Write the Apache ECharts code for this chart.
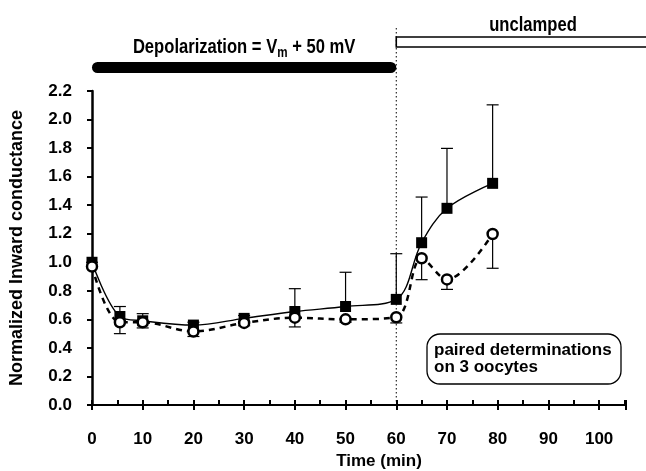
<!DOCTYPE html>
<html>
<head>
<meta charset="utf-8">
<script src="https://cdn.jsdelivr.net/npm/echarts@6/dist/echarts.min.js"></script>
<style>
  html, body { margin: 0; padding: 0; background: #fff; }
  #chart { width: 646px; height: 471px; }
</style>
</head>
<body>
<div id="chart"></div>
<script>
// Time points (min)
const times = [0, 5.5, 10, 20, 30, 40, 50, 60, 65, 70, 79];
// Filled squares: normalized inward conductance and upper SEM
const squareVals = [1.0, 0.62, 0.59, 0.56, 0.607, 0.655, 0.69, 0.74, 1.137, 1.378, 1.553];
const squareErr  = [0.0, 0.07, 0.05, 0.02, 0.02, 0.16, 0.24, 0.32, 0.32, 0.42, 0.55];
// Open circles: normalized inward conductance and lower SEM
const circleVals = [0.97, 0.58, 0.58, 0.515, 0.575, 0.612, 0.60, 0.615, 1.028, 0.88, 1.198];
const circleErr  = [0.0, 0.08, 0.04, 0.035, 0.02, 0.065, 0.02, 0.04, 0.15, 0.07, 0.24];

const clampEnd = 60;   // end of depolarization protocol (min)
const FONT = "'Liberation Sans', Arial, sans-serif";
const NARROW = 0.83;   // horizontal squeeze for the condensed header lettering

const chart = echarts.init(document.getElementById('chart'), null, { renderer: 'canvas' });

function errorBars(vals, errs, dir) {
  return times.map((t, i) => [t, vals[i], vals[i] + dir * errs[i]]);
}

function renderError(params, api) {
  const x = api.value(0);
  const p0 = api.coord([x, api.value(1)]);
  const p1 = api.coord([x, api.value(2)]);
  const hw = 6;
  const style = { stroke: '#000', lineWidth: 1.2 };
  return {
    type: 'group',
    children: [
      { type: 'line', shape: { x1: p0[0], y1: p0[1], x2: p1[0], y2: p1[1] }, style },
      { type: 'line', shape: { x1: p1[0] - hw, y1: p1[1], x2: p1[0] + hw, y2: p1[1] }, style }
    ]
  };
}

const axisLabelStyle = { color: '#000', fontFamily: FONT, fontWeight: 'bold', fontSize: 17 };

const option = {
  animation: false,
  backgroundColor: '#fff',
  grid: { left: 92, right: 20, top: 91, bottom: 66, containLabel: false, outerBoundsMode: 'none' },
  xAxis: [{
    type: 'value', min: 0, max: 105.3, interval: 10,
    axisLine: { lineStyle: { color: '#000', width: 2 } },
    axisTick: { inside: true, length: 5, lineStyle: { color: '#000', width: 2 } },
    minorTick: { show: true, splitNumber: 2, length: 5, lineStyle: { color: '#000', width: 2 } },
    splitLine: { show: false },
    axisLabel: Object.assign({ margin: 26, showMaxLabel: false }, axisLabelStyle),
    name: 'Time (min)', nameLocation: 'middle', nameGap: 48,
    nameTextStyle: { color: '#000', fontFamily: FONT, fontWeight: 'bold', fontSize: 17, padding: [0, 0, 0, 40] }
  }, {
    type: 'value', min: 0, max: 105.3, interval: 10, position: 'bottom',
    axisLine: { show: false },
    axisTick: { inside: false, length: 5, lineStyle: { color: '#000', width: 2 } },
    axisLabel: { show: false }, splitLine: { show: false }
  }],
  yAxis: {
    type: 'value', min: 0, max: 2.2, interval: 0.2,
    axisLine: { show: true, lineStyle: { color: '#000', width: 2.5 } },
    axisTick: { show: true, inside: false, length: 5, lineStyle: { color: '#000', width: 2 } },
    splitLine: { show: false },
    axisLabel: Object.assign({ margin: 20, formatter: v => v.toFixed(1) }, axisLabelStyle),
    name: 'Normalized Inward conductance', nameLocation: 'middle', nameGap: 66,
    nameTextStyle: { color: '#000', fontFamily: FONT, fontWeight: 'bold', fontSize: 18 }
  },
  series: [
    {
      type: 'custom', name: 'squareErr', renderItem: renderError,
      data: errorBars(squareVals, squareErr, 1), z: 1, silent: true
    },
    {
      type: 'custom', name: 'circleErr', renderItem: renderError,
      data: errorBars(circleVals, circleErr, -1), z: 1, silent: true
    },
    {
      type: 'line', name: 'squares', data: times.map((t, i) => [t, squareVals[i]]),
      smooth: 0.35, symbol: 'rect', symbolSize: 11, z: 3,
      lineStyle: { color: '#000', width: 1.4 },
      itemStyle: { color: '#000' }
    },
    {
      type: 'line', name: 'circles', data: times.map((t, i) => [t, circleVals[i]]),
      smooth: 0.35, symbol: 'circle', symbolSize: 10, z: 4,
      lineStyle: { color: '#000', width: 2.5, type: [6, 5] },
      itemStyle: { color: '#fff', borderColor: '#000', borderWidth: 2.5 }
    }
  ]
};

chart.setOption(option);

// Protocol annotations above the plot, placed on the time axis
const x0 = chart.convertToPixel({ xAxisIndex: 0 }, 0);
const x60 = chart.convertToPixel({ xAxisIndex: 0 }, clampEnd);
const yBase = chart.convertToPixel({ yAxisIndex: 0 }, 0);

chart.setOption({
  graphic: [
    {
      type: 'line', silent: true, z: 0,
      shape: { x1: x60, y1: 28, x2: x60, y2: yBase },
      style: { stroke: '#000', lineWidth: 1, lineDash: [1.5, 2.5] }
    },
    {
      type: 'rect', silent: true,
      shape: { x: x0, y: 62, width: x60 - x0, height: 11, r: 5.5 },
      style: { fill: '#000' }
    },
    {
      type: 'text', silent: true,
      x: (x0 + x60) / 2, y: 47, scaleX: NARROW,
      style: {
        text: 'Depolarization = V{sub|m} + 50 mV',
        align: 'center', verticalAlign: 'middle',
        fill: '#000', font: 'bold 20px ' + FONT,
        rich: { sub: { fontSize: 14, fontWeight: 'bold', fontFamily: FONT, padding: [12, 0, 0, 0] } }
      }
    },
    {
      type: 'rect', silent: true,
      shape: { x: x60, y: 37, width: 260, height: 10 },
      style: { fill: '#fff', stroke: '#000', lineWidth: 1.6 }
    },
    {
      type: 'text', silent: true,
      x: 533, y: 25, scaleX: NARROW,
      style: { text: 'unclamped', align: 'center', verticalAlign: 'middle', fill: '#000', font: 'bold 20px ' + FONT }
    },
    {
      type: 'rect', silent: true,
      shape: { x: 427, y: 334, width: 194, height: 50, r: 13 },
      style: { fill: '#fff', stroke: '#000', lineWidth: 1.3 }
    },
    {
      type: 'text', silent: true,
      x: 434, y: 359,
      style: {
        text: 'paired determinations\non 3 oocytes',
        align: 'left', verticalAlign: 'middle', lineHeight: 17,
        fill: '#000', font: 'bold 17px ' + FONT
      }
    }
  ]
});
</script>
</body>
</html>
